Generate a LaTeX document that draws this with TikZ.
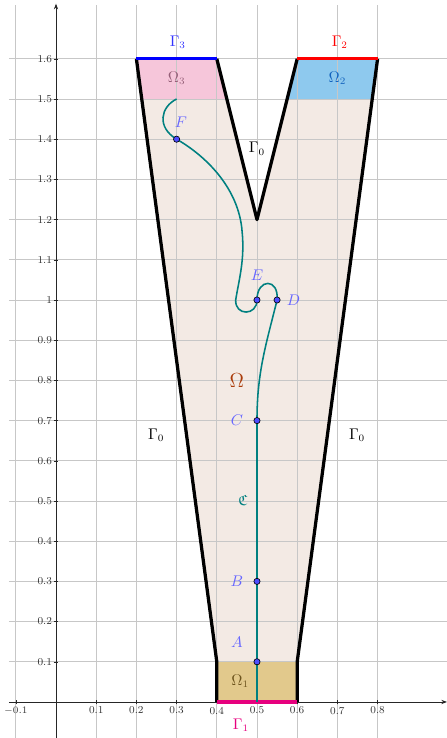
\documentclass[tikz,border=0pt]{standalone}
\usepackage{amssymb}
\usetikzlibrary{arrows.meta}

\definecolor{curvecol}{RGB}{0,128,128}
\definecolor{ptblue}{RGB}{77,77,255}
\definecolor{lblblue}{RGB}{102,102,255}
\definecolor{omegafill}{RGB}{243,234,228}
\definecolor{omegalbl}{RGB}{170,60,10}
\definecolor{omonefill}{RGB}{226,201,140}
\definecolor{omonelbl}{RGB}{110,85,30}
\definecolor{omtwofill}{RGB}{142,201,238}
\definecolor{omtwolbl}{RGB}{20,100,190}
\definecolor{omthreefill}{RGB}{246,198,218}
\definecolor{omthreelbl}{RGB}{150,95,120}
\definecolor{gammaone}{RGB}{230,0,126}

\tikzset{
  gridline/.style={black!22, line width=0.5pt},
  axisline/.style={black!85, line width=0.55pt, -{Stealth[length=4pt,width=3pt]}},
  wall/.style={black, line width=2.3pt, line join=round},
  gammaedge/.style={line width=2.3pt},
  curve/.style={curvecol, line width=1.1pt},
  pnt/.style={circle, fill=ptblue, draw=black, line width=0.45pt, inner sep=0pt, minimum size=4.4pt},
  ptlabel/.style={text=lblblue, font=\fontsize{10.5}{12}\selectfont},
  lbl/.style={font=\fontsize{10.5}{12}\selectfont},
  ticklbl/.style={font=\fontsize{7.5}{9}\selectfont, text=black!80, inner sep=1pt}
}

\begin{document}
\begin{tikzpicture}[x=10cm, y=10cm]
    \useasboundingbox (-0.1393,-0.0896) rectangle (0.9726,1.7463);

    % Gebiet Omega
    \fill[omegafill] (0.4,0) -- (0.6,0) -- (0.6,0.1) -- (0.8,1.6) -- (0.6,1.6) -- (0.5,1.2)
        -- (0.4,1.6) -- (0.2,1.6) -- (0.4,0.1) -- cycle;
    \fill[omonefill] (0.4,0) rectangle (0.6,0.1);
    \fill[omtwofill] (0.6,1.6) -- (0.8,1.6) -- (0.7867,1.5) -- (0.575,1.5) -- cycle;
    \fill[omthreefill] (0.2,1.6) -- (0.4,1.6) -- (0.425,1.5) -- (0.2133,1.5) -- cycle;

    % Gitter
    \foreach \x in {-1,1,2,...,8}
        \draw[gridline] (\x/10,-0.0896) -- (\x/10,1.734);
    \foreach \y in {1,...,16}
        \draw[gridline] (-0.117,\y/10) -- (0.9726,\y/10);

    % Achsen
    \draw[axisline] (-0.117,0) -- (0.9726,0);
    \draw[axisline] (0,-0.0896) -- (0,1.737);
    \foreach \x/\t in {-1/$-0.1$,1/0.1,2/0.2,3/0.3,4/0.4,5/0.5,6/0.6,7/0.7,8/0.8} {
        \draw[black!85, line width=0.4pt] (\x/10,-0.006) -- (\x/10,0.006);
        \node[ticklbl, below] (tx\x) at (\x/10,-0.008) {\t};
    }
    \foreach \y/\t in {1/0.1,2/0.2,3/0.3,4/0.4,5/0.5,6/0.6,7/0.7,8/0.8,9/0.9,10/1,
                       11/1.1,12/1.2,13/1.3,14/1.4,15/1.5,16/1.6} {
        \draw[black!85, line width=0.4pt] (-0.006,\y/10) -- (0.006,\y/10);
        \node[ticklbl, left] (ty\y) at (-0.006,\y/10) {\t};
    }

    % Rand
    \draw[wall] (0.6,0) -- (0.6,0.1) -- (0.8,1.6);
    \draw[wall] (0.6,1.6) -- (0.5,1.2) -- (0.4,1.6);
    \draw[wall] (0.2,1.6) -- (0.4,0.1) -- (0.4,0);
    \draw[gammaedge, gammaone] (0.4,0) -- (0.6,0);
    \draw[gammaedge, red] (0.6,1.6) -- (0.8,1.6);
    \draw[gammaedge, blue] (0.2,1.6) -- (0.4,1.6);

    % Kurve
    \coordinate (start) at (0.5,0);
    \coordinate (A) at (0.5,0.1);
    \coordinate (B) at (0.5,0.3);
    \coordinate (C) at (0.5,0.7);
    \coordinate (D) at (0.55,1.0);
    \coordinate (E) at (0.5,1.0);
    \coordinate (F) at (0.3,1.4);
    \coordinate (tail) at (0.3,1.5);
    \draw[curve] (start) -- (C) to[out=90, in=256] (D)
        .. controls (0.555,1.055) and (0.5,1.055) .. (E)
        .. controls (0.5,0.96) and (0.445,0.96) .. (0.447,1.0)
        .. controls (0.455,1.05) and (0.47,1.1) .. (0.463,1.17)
        .. controls (0.455,1.28) and (0.37,1.36) .. (F)
        .. controls (0.25,1.43) and (0.26,1.48) .. (tail);

    \node[pnt] (pA) at (A) {};
    \node[pnt] (pB) at (B) {};
    \node[pnt] (pC) at (C) {};
    \node[pnt] (pD) at (D) {};
    \node[pnt] (pE) at (E) {};
    \node[pnt] (pF) at (F) {};

    % Beschriftungen
    \node[ptlabel] (lA) at (0.45,0.149) {$A$};
    \node[ptlabel] (lB) at (0.45,0.30) {$B$};
    \node[ptlabel] (lC) at (0.45,0.70) {$C$};
    \node[ptlabel] (lD) at (0.591,1.0) {$D$};
    \node[ptlabel] (lE) at (0.5,1.062) {$E$};
    \node[ptlabel] (lF) at (0.311,1.443) {$F$};

    \node[lbl, text=curvecol] (lcurve) at (0.465,0.502) {$\mathfrak{C}$};
    \node[text=omegalbl, font=\fontsize{15}{17}\selectfont] (lomega) at (0.45,0.80) {$\Omega$};
    \node[lbl, text=omonelbl] (lomone) at (0.458,0.052) {$\Omega_1$};
    \node[lbl, text=omtwolbl] (lomtwo) at (0.70,1.552) {$\Omega_2$};
    \node[lbl, text=omthreelbl] (lomthree) at (0.30,1.552) {$\Omega_3$};

    \node[lbl, text=gammaone] (lgone) at (0.46,-0.057) {$\Gamma_1$};
    \node[lbl, text=red] (lgtwo) at (0.706,1.642) {$\Gamma_2$};
    \node[lbl, text=blue!80] (lgthree) at (0.303,1.642) {$\Gamma_3$};
    \node[lbl] (lgtop) at (0.50,1.376) {$\Gamma_0$};
    \node[lbl] (lgleft) at (0.249,0.664) {$\Gamma_0$};
    \node[lbl] (lgright) at (0.749,0.664) {$\Gamma_0$};
\end{tikzpicture}
\end{document}
